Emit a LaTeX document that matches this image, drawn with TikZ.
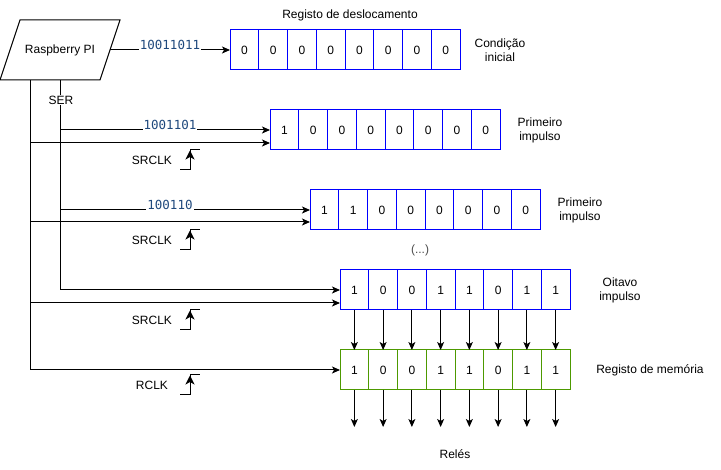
\documentclass[tikz,border=0pt]{standalone}
\usepackage{fontspec}
\setmainfont{Liberation Sans}
\newfontfamily\monof{DejaVu Sans Mono}
\usetikzlibrary{arrows.meta,calc}
\definecolor{regblue}{RGB}{0,0,255}
\definecolor{reggreen}{RGB}{77,153,0}
\definecolor{codeblue}{RGB}{31,73,125}
\tikzset{
  cell/.style={draw, minimum width=28.75pt, minimum height=40pt, inner sep=0pt, outer sep=0pt, line width=1pt, font=\fontsize{12}{14}\selectfont},
  arr/.style={line width=1pt, -{Stealth[length=8pt,width=7pt,inset=2pt]}},
  conn/.style={line width=1pt},
  lbl/.style={font=\fontsize{12}{14}\selectfont, align=center, inner sep=1pt},
  code/.style={font=\monof\fontsize{12.5}{14}\selectfont, text=codeblue, fill=white, inner sep=1pt},
  clkedge/.pic={
    \draw[line width=1pt] (0,0) -- (10,0) -- (10,-20) -- (20,-20);
    \draw[line width=1pt, -{Stealth[length=9pt,width=9pt,inset=2.5pt]}] (10,-6) -- (10,-19.5);
  }
}
\newcommand{\myreg}[5]{%
  \foreach \b [count=\i] in {#5} {
    \node[cell, draw=#4] (#1c\i) at ({#2+(\i-0.5)*28.75}, #3) {\b};
  }%
}
\begin{document}
\begin{tikzpicture}[x=1pt,y=-1pt]
\useasboundingbox (0,0) rectangle (721,470);
% Raspberry PI
\draw[line width=1pt] (20,20) -- (120,20) -- (100,80) -- (0,80) -- cycle;
\node[lbl] (pi) at (60,50) {Raspberry PI};
\coordinate (piE) at (110,50);
\coordinate (serTop) at (60,80);
\coordinate (clkTop) at (30,80);
% registers
\myreg{r1}{230}{50}{regblue}{0,0,0,0,0,0,0,0}
\myreg{r2}{270}{130}{regblue}{1,0,0,0,0,0,0,0}
\myreg{r3}{310}{210}{regblue}{1,1,0,0,0,0,0,0}
\myreg{r4}{340}{290}{regblue}{1,0,0,1,1,0,1,1}
\myreg{r5}{340}{370}{reggreen}{1,0,0,1,1,0,1,1}
% first arrow
\draw[arr] (piE) -- (r1c1.west);
\node[code] (b1) at (170,45) {10011011};
% SER line
\draw[arr] (serTop) |- (r4c1.west);
\node[lbl, fill=white] (ser) at (61,100) {SER};
\coordinate (s2) at (60,130);
\coordinate (s3) at (60,210);
\draw[arr] (s2) -- (s2 -| r2c1.west);
\draw[arr] (s3) -- (s3 -| r3c1.west);
\node[code] (b2) at (170,125) {1001101};
\node[code] (b3) at (170,205) {100110};
% clock line
\draw[arr] (clkTop) |- (r5c1.west);
\coordinate (c2) at (30,143);
\coordinate (c3) at (30,222);
\coordinate (c4) at (30,303);
\draw[arr] (c2) -- (c2 -| r2c1.west);
\draw[arr] (c3) -- (c3 -| r3c1.west);
\draw[arr] (c4) -- (c4 -| r4c1.west);
% clock labels
\node[lbl] (k1) at (152,160) {SRCLK};
\node[lbl] (k2) at (152,240) {SRCLK};
\node[lbl] (k3) at (152,320) {SRCLK};
\node[lbl] (k4) at (152,385) {RCLK};
\pic at (180,170) {clkedge};
\pic at (180,250) {clkedge};
\pic at (180,330) {clkedge};
\pic at (180,395) {clkedge};
% r4 -> r5 and outputs
\foreach \i in {1,...,8} {
  \draw[arr] (r4c\i.south) -- (r5c\i.north);
  \coordinate (rel\i) at ($(r5c\i.south)+(0,37)$);
  \draw[arr] (r5c\i.south) -- (rel\i);
}
% text labels
\node[lbl] (t1) at (350,15) {Registo de deslocamento};
\node[lbl] (t2) at (500,50) {Condição\\inicial};
\node[lbl] (t3) at (540,130) {Primeiro\\impulso};
\node[lbl] (t4) at (580,210) {Primeiro\\impulso};
\node[lbl, text=black!70] (t5) at (420,250) {(...)};
\node[lbl] (t6) at (620,290) {Oitavo\\impulso};
\node[lbl] (t7) at (650,370) {Registo de memória};
\node[lbl] (t8) at (455,454) {Relés};
\end{tikzpicture}
\end{document}
